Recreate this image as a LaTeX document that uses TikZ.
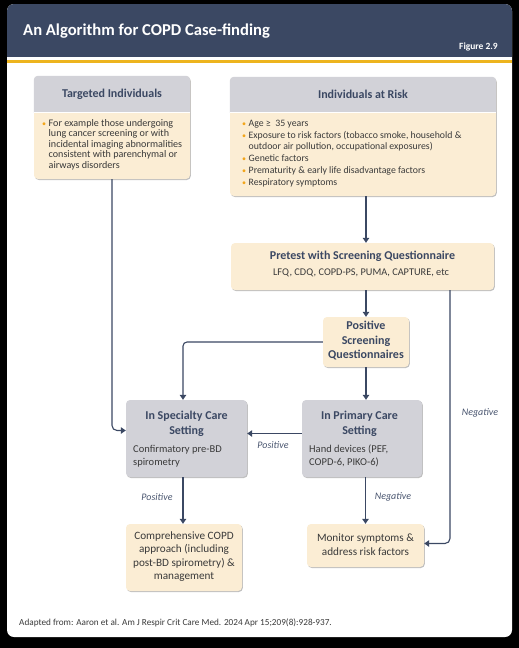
\documentclass[tikz,border=0pt]{standalone}
\usepackage{fontspec}
\setmainfont{Carlito}
\usetikzlibrary{arrows.meta,shadows}

\definecolor{navy}{HTML}{3B4863}
\definecolor{gold}{HTML}{EDB41E}
\definecolor{hdrgray}{HTML}{D2D2D8}
\definecolor{cream}{HTML}{FBEDD4}
\definecolor{bulc}{HTML}{F2A51A}
\definecolor{bodyc}{HTML}{3A3A3A}
\definecolor{labelc}{HTML}{4A5670}

\newcommand{\bul}{{\color{bulc}\footnotesize\textbullet}}

\begin{document}
\begin{tikzpicture}[x=1pt,y=-1pt,
	box/.style={fill=cream, rounded corners=4pt, inner sep=0pt,
		drop shadow={shadow xshift=0.8pt, shadow yshift=-1pt, opacity=0.25, fill=black}},
	flow/.style={draw=navy, line width=1.1pt, -{Triangle[length=5pt,width=6.5pt]}},
	lbl/.style={font=\fontsize{10}{12}\selectfont\itshape, text=labelc},
	ttl/.style={font=\fontsize{12}{15}\selectfont\bfseries, text=navy, align=center, inner sep=0pt},
	txt/.style={font=\fontsize{10.5}{13}\selectfont, text=bodyc, align=left, inner sep=0pt},
	plain/.style={font=\fontsize{11.2}{13.4}\selectfont, text=bodyc, align=center, inner sep=0pt}
]
	% background and card
	\useasboundingbox (0,0) rectangle (519,648);
	\fill[black] (0,0) rectangle (519,648);
	\fill[white, rounded corners=7pt] (7,4) rectangle (512,637);
	\begin{scope}
		\clip[rounded corners=7pt] (7,4) rectangle (512,637);
		\fill[navy] (7,4) rectangle (512,57);
		\fill[gold] (7,60) rectangle (512,63);
	\end{scope}
	\node[anchor=base west, inner sep=0pt, text=white, font=\fontsize{16.6}{20}\selectfont\bfseries] (title) at (23,35) {An Algorithm for COPD Case-finding};
	\node[anchor=base east, inner sep=0pt, text=white, font=\fontsize{9.5}{11}\selectfont\bfseries] (fig) at (498,49) {Figure 2.9};

	% boxes
	\node[box, minimum width=156pt, minimum height=103pt] (tgt) at (112,127.5) {};
	\node[box, minimum width=266pt, minimum height=119pt] (risk) at (363,136.5) {};
	\begin{scope}
		\clip (0,70) rectangle (519,112);
		\fill[hdrgray, rounded corners=4pt] (tgt.north west) rectangle (tgt.south east);
		\fill[hdrgray, rounded corners=4pt] (risk.north west) rectangle (risk.south east);
	\end{scope}
	\draw[white, line width=1.5pt] (34,112.5) -- (190,112.5);
	\draw[white, line width=1.5pt] (230,112.5) -- (496,112.5);

	\node[box, minimum width=263pt, minimum height=47pt] (pre) at (362.5,266.5) {};
	\node[box, minimum width=86pt, minimum height=50pt] (pos) at (366,342) {};
	\node[box, fill=hdrgray, minimum width=121pt, minimum height=77pt] (spec) at (186.5,438.5) {};
	\node[box, fill=hdrgray, minimum width=120pt, minimum height=77pt] (prim) at (362,438.5) {};
	\node[box, minimum width=116pt, minimum height=67pt] (comp) at (184,557.5) {};
	\node[box, minimum width=117pt, minimum height=43pt] (mon) at (365.5,545.5) {};

	% texts
	\node[ttl] (tgtttl) at (112,94) {Targeted Individuals};
	\node[txt, anchor=north west, font=\fontsize{10.1}{10.5}\selectfont] (tgtlist) at (42,118.5) {%
		\begin{tabular}{@{}l@{\hspace{2.5pt}}l@{}}
		\bul & For example those undergoing\\
		 & lung cancer screening or with\\
		 & incidental imaging abnormalities\\
		 & consistent with parenchymal or\\
		 & airways disorders
		\end{tabular}};
	\node[ttl] (riskttl) at (363,94) {Individuals at Risk};
	\node[txt, anchor=north west, font=\fontsize{9.8}{10.8}\selectfont] (risklist) at (242,118.5) {%
		\begin{tabular}{@{}l@{\hspace{2.5pt}}l@{}}
		\bul & Age ≥\ \ 35 years\\[1.2pt]
		\bul & Exposure to risk factors (tobacco smoke, household \&\\
		 & outdoor air pollution, occupational exposures)\\[1.2pt]
		\bul & Genetic factors\\[1.2pt]
		\bul & Prematurity \& early life disadvantage factors\\[1.2pt]
		\bul & Respiratory symptoms
		\end{tabular}};
	\node[ttl] (prettl) at (362.5,256) {Pretest with Screening Questionnaire};
	\node[txt, font=\fontsize{10.3}{12}\selectfont] (presub) at (361,273) {LFQ, CDQ, COPD-PS, PUMA, CAPTURE, etc};
	\node[ttl, font=\fontsize{12}{14.5}\selectfont\bfseries] (posttl) at (366,341) {Positive\\Screening\\Questionnaires};
	\node[ttl] (specttl) at (186.5,424) {In Specialty Care\\Setting};
	\node[txt, anchor=west] (spectxt) at (133,456) {Confirmatory pre-BD\\spirometry};
	\node[ttl] (primttl) at (359.5,424) {In Primary Care\\Setting};
	\node[txt, anchor=west] (primtxt) at (309,456) {Hand devices (PEF,\\COPD-6, PIKO-6)};
	\node[plain] (comptxt) at (184,556.5) {Comprehensive COPD\\approach (including\\post-BD spirometry) \&\\management};
	\node[plain, font=\fontsize{11.2}{14}\selectfont] (montxt) at (365.5,544.5) {Monitor symptoms \&\\address risk factors};

	% connectors
	\coordinate (sx) at (183,0);
	\coordinate (nx) at (450,0);
	\draw[flow] (risk.south -| pos.north) -- (pre.north -| pos.north);
	\draw[flow] (pre.south -| pos.north) -- (pos.north);
	\draw[flow, rounded corners=4pt] (pos.west) -| (sx |- spec.north);
	\draw[flow] (pos.south) -- (prim.north -| pos.south);
	\draw[flow, rounded corners=5pt] (tgt.south) |- ([yshift=8pt]spec.west);
	\draw[flow] ([yshift=5pt]prim.west) -- ([yshift=5pt]spec.east);
	\draw[flow] (sx |- spec.south) -- (sx |- comp.north);
	\draw[flow] (prim.south -| mon.north) -- (mon.north);
	\draw[flow, rounded corners=5pt] (pre.south -| nx) |- ([yshift=2pt]mon.east);

	% labels
	\node[lbl] (negr) at (480,413) {Negative};
	\node[lbl] (posm) at (273,445) {Positive};
	\node[lbl] (posl) at (157,497) {Positive};
	\node[lbl] (negm) at (393,497) {Negative};

	% footer
	\node[anchor=base west, inner sep=0pt, text=bodyc, font=\fontsize{9.2}{11}\selectfont] (src) at (19,625) {Adapted from: Aaron et al. Am J Respir Crit Care Med. 2024 Apr 15;209(8):928-937.};
\end{tikzpicture}
\end{document}
